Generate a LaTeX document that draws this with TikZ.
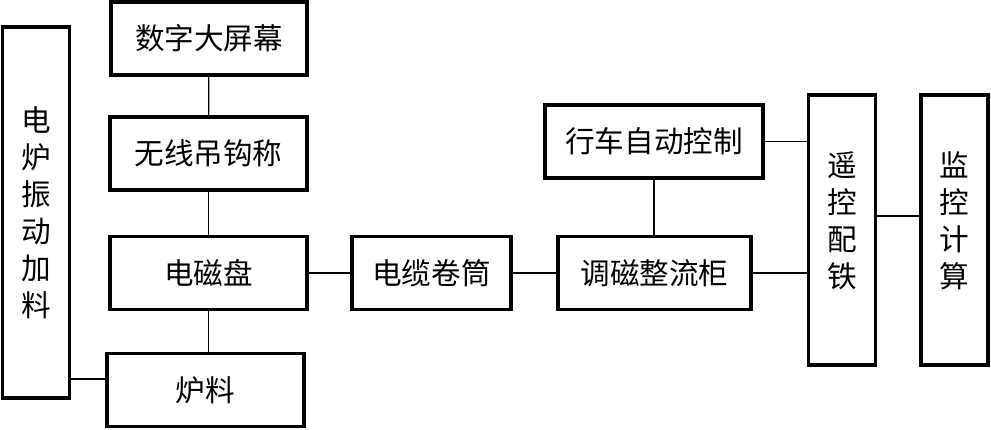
\documentclass[tikz,border=0pt]{standalone}
\usepackage{fontspec}
\newfontfamily\cjk{Noto Sans CJK SC}
\usepackage{tikz}
\usetikzlibrary{positioning,calc}
\tikzset{
  ctl box/.style={rectangle, draw, line width=1.6pt, align=center, inner sep=0pt, minimum height=36.5pt, font=\cjk\fontsize{14.8}{18.5}\selectfont},
  ctl tall/.style={ctl box, minimum width=33.5pt},
  ctl link/.style={line width=0.6pt}
}
\begin{document}
\begin{tikzpicture}[x=0.5pt, y=-0.5pt]
    \useasboundingbox (0,0) rectangle (991,429);
    % Feeding column
    \node [ctl tall, minimum height=185.5pt] (Feed) at (36,212.5) {电\\炉\\振\\动\\加\\料};
    \node [ctl box, minimum width=98pt] (Screen) at (209,38.5) {数字大屏幕};
    \node [ctl box, minimum width=98.5pt] (Hook) at (208.5,153.5) {无线吊钩称};
    \node [ctl box, minimum width=98.5pt] (Magnet) at (208.5,273) {电磁盘};
    \node [ctl box, minimum width=98.5pt] (Charge) at (205.5,390) {炉料};
    \draw [ctl link] (Screen) -- (Hook);
    \draw [ctl link] (Hook) -- (Magnet);
    \draw [ctl link] (Magnet) -- (Magnet |- Charge.north);
    \draw [ctl link] ([yshift=5.5pt]Charge.west) -- ([yshift=5.5pt]Charge.west -| Feed.east);

    % Power chain
    \node [ctl box, minimum width=79.5pt] (Cable) at (431.5,273) {电缆卷筒};
    \node [ctl box, minimum width=96.5pt] (Rectifier) at (654.5,273) {调磁整流柜};
    \node [ctl box, minimum width=109pt] (Crane) at (654,141.5) {行车自动控制};
    \draw [ctl link] (Magnet) -- (Cable);
    \draw [ctl link] (Cable) -- (Rectifier);
    \draw [ctl link] (Crane) -- (Crane |- Rectifier.north);

    % Remote side
    \node [ctl tall, minimum height=135pt, text depth=10pt] (Remote) at (842,230) {遥\\控\\配\\铁};
    \node [ctl tall, minimum height=135pt, text depth=10pt] (Monitor) at (954.5,230) {监\\控\\计\\算};
    \draw [ctl link] (Crane) -- (Crane -| Remote.west);
    \draw [ctl link] (Rectifier) -- (Rectifier -| Remote.west);
    \draw [ctl link] ([yshift=7pt]Remote.east) -- ([yshift=7pt]Monitor.west);
\end{tikzpicture}
\end{document}
